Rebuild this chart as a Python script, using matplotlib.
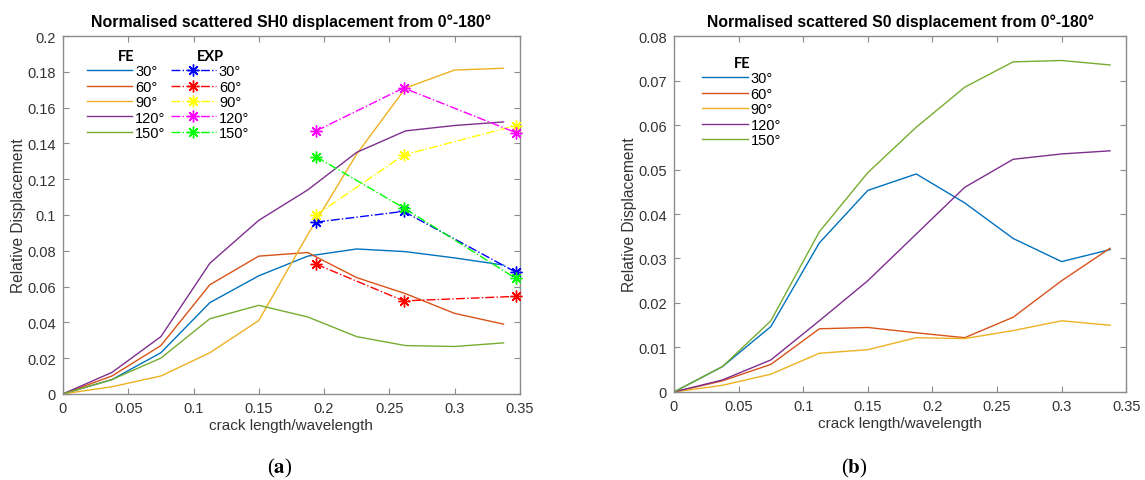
import numpy as np
import matplotlib.pyplot as plt

plt.rcParams['font.family'] = ['Liberation Sans', 'DejaVu Sans']
plt.rcParams['mathtext.fontset'] = 'stix'

# crack length / wavelength sample points
X_FE = [0, 0.0375, 0.075, 0.1125, 0.15, 0.1875, 0.225, 0.2625, 0.3, 0.3375]
X_EXP = [0.194, 0.261, 0.347]
ANGLES = ['30°', '60°', '90°', '120°', '150°']

# (a) SH0 - finite element
SH0_FE_30 = [0, 0.008, 0.023, 0.051, 0.066, 0.077, 0.081, 0.0795, 0.076, 0.072]
SH0_FE_60 = [0, 0.010, 0.027, 0.061, 0.077, 0.079, 0.065, 0.056, 0.045, 0.039]
SH0_FE_90 = [0, 0.004, 0.010, 0.023, 0.041, 0.089, 0.134, 0.171, 0.181, 0.182]
SH0_FE_120 = [0, 0.012, 0.032, 0.073, 0.097, 0.114, 0.135, 0.147, 0.150, 0.152]
SH0_FE_150 = [0, 0.008, 0.020, 0.042, 0.0495, 0.043, 0.032, 0.027, 0.0265, 0.0285]

# (a) SH0 - experiment
SH0_EXP_30 = [0.096, 0.102, 0.068]
SH0_EXP_60 = [0.0725, 0.052, 0.0545]
SH0_EXP_90 = [0.100, 0.1335, 0.150]
SH0_EXP_120 = [0.147, 0.171, 0.146]
SH0_EXP_150 = [0.1325, 0.104, 0.0645]

# (b) S0 - finite element
S0_FE_30 = [0, 0.0057, 0.0147, 0.0335, 0.0453, 0.049, 0.0425, 0.0345, 0.0293, 0.032]
S0_FE_60 = [0, 0.0025, 0.0062, 0.0142, 0.0145, 0.0133, 0.0122, 0.0168, 0.025, 0.0323]
S0_FE_90 = [0, 0.0015, 0.004, 0.0087, 0.0095, 0.0122, 0.012, 0.0138, 0.016, 0.015]
S0_FE_120 = [0, 0.0027, 0.0072, 0.016, 0.025, 0.0355, 0.046, 0.0523, 0.0535, 0.0542]
S0_FE_150 = [0, 0.0057, 0.016, 0.036, 0.0493, 0.0595, 0.0685, 0.0742, 0.0745, 0.0735]

FE_COLORS = ['#0072BD', '#D95319', '#EDB120', '#7E2F8E', '#77AC30']
EXP_COLORS = ['#0000FF', '#FF0000', '#FFFF00', '#FF00FF', '#00FF00']

TXT = '#333333'
SPINE = '#8c8c8c'
ASTERISK = (8, 2, 0)


def style_axes(ax, ymax, ystep):
    ax.set_xlim(0, 0.35)
    ax.set_ylim(0, ymax)
    ax.set_xticks(np.arange(0, 0.351, 0.05))
    ax.set_xticklabels(['0', '0.05', '0.1', '0.15', '0.2', '0.25', '0.3', '0.35'])
    yt = np.arange(0, ymax + 1e-9, ystep)
    ax.set_yticks(yt)
    ax.set_yticklabels(['0'] + ['%g' % v for v in yt[1:]])
    ax.tick_params(direction='in', top=True, right=True, length=4, width=0.8,
                   color=SPINE, labelcolor=TXT, labelsize=10.5, pad=5)
    for s in ax.spines.values():
        s.set_color(SPINE)
        s.set_linewidth(1.0)
    ax.set_xlabel('crack length/wavelength', fontsize=11, color=TXT, labelpad=2)
    ax.set_ylabel('Relative Displacement', fontsize=11.2, color=TXT, labelpad=1)


fig = plt.figure(figsize=(11.45, 4.81), dpi=100)
ax1 = fig.add_axes([0.055, 0.179, 0.399, 0.744])
ax2 = fig.add_axes([0.5886, 0.183, 0.395, 0.740])

leg_kw = dict(frameon=False, fontsize=10.5, handlelength=3.1, handletextpad=0.2,
              labelspacing=0.1, borderpad=0, loc='upper left',
              title_fontproperties={'family': 'Lato', 'weight': 'bold', 'size': 10.5})

# ---- (a)
fe_a = [SH0_FE_30, SH0_FE_60, SH0_FE_90, SH0_FE_120, SH0_FE_150]
exp_a = [SH0_EXP_30, SH0_EXP_60, SH0_EXP_90, SH0_EXP_120, SH0_EXP_150]
fe_h = []
for y, c, lab in zip(fe_a, FE_COLORS, ANGLES):
    h, = ax1.plot(X_FE, y, color=c, lw=1.0, label=lab)
    fe_h.append(h)
exp_h = []
for y, c, lab in zip(exp_a, EXP_COLORS, ANGLES):
    h, = ax1.plot(X_EXP, y, color=c, lw=1.0, ls='-.', marker=ASTERISK, ms=8.5,
                  markeredgewidth=1.0, label=lab, clip_on=False, zorder=4)
    exp_h.append(h)

style_axes(ax1, 0.2, 0.02)
ax1.set_title('Normalised scattered SH0 displacement from 0°-180°',
              fontsize=11.4, fontweight='bold', pad=7)

l1 = ax1.legend(handles=fe_h, title='FE', bbox_to_anchor=(0.037, 0.985), **leg_kw)
ax1.add_artist(l1)
ax1.legend(handles=exp_h, title='EXP', bbox_to_anchor=(0.22, 0.985), **leg_kw)

# ---- (b)
fe_b = [S0_FE_30, S0_FE_60, S0_FE_90, S0_FE_120, S0_FE_150]
fe_hb = []
for y, c, lab in zip(fe_b, FE_COLORS, ANGLES):
    h, = ax2.plot(X_FE, y, color=c, lw=1.0, label=lab)
    fe_hb.append(h)
style_axes(ax2, 0.08, 0.01)
ax2.set_title('Normalised scattered S0 displacement from 0°-180°',
              fontsize=11.3, fontweight='bold', pad=7)
ax2.legend(handles=fe_hb, title='FE', bbox_to_anchor=(0.047, 0.965), **leg_kw)

fig.text(0.2445, 0.027, r'($\mathbf{a}$)', fontsize=15, family='Liberation Serif',
         ha='center', va='center')
fig.text(0.7465, 0.027, r'($\mathbf{b}$)', fontsize=15, family='Liberation Serif',
         ha='center', va='center')

fig.savefig('out.png', dpi=100)
